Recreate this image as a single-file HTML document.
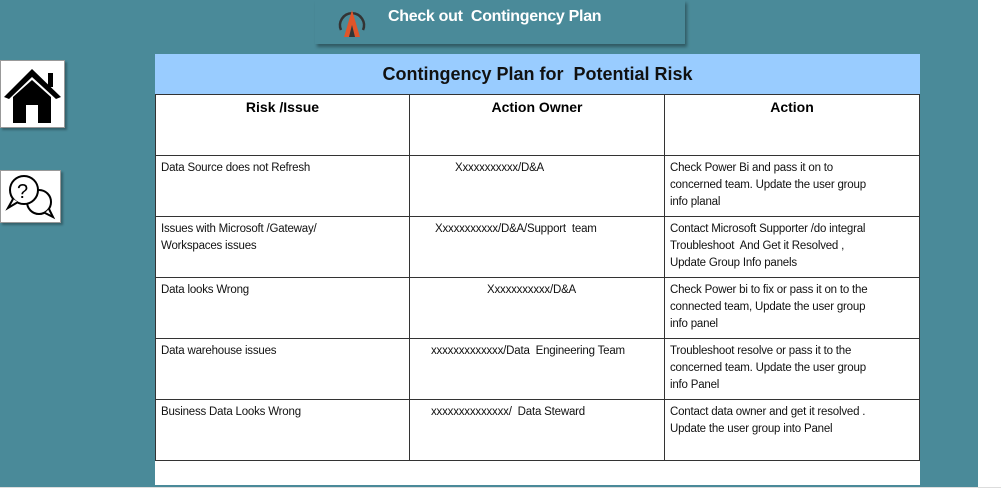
<!DOCTYPE html>
<html><head><meta charset="utf-8"><style>
body{margin:0;width:1001px;height:494px;background:#4a8a99;position:relative;overflow:hidden;font-family:"Liberation Sans",sans-serif}
.abs{position:absolute}
#rightstrip{left:978px;top:0;width:23px;height:494px;background:#fff}
#bottomstrip{left:0;top:487px;width:1001px;height:7px;background:#fff;border-top:1px solid #ddd}
#banner{left:315px;top:0;width:370px;height:44px;background:#4a8a99;box-shadow:2px 3px 3px rgba(0,0,0,.35)}
#banner span{position:absolute;left:73px;top:8px;color:#fff;font-weight:bold;font-size:16px;letter-spacing:-0.3px}
.icon{background:#fff;border:1px solid #999;box-shadow:2px 2px 2px rgba(0,0,0,.3)}
table{position:absolute;left:155px;top:54px;width:764px;border-collapse:collapse;background:#fff;table-layout:fixed}
td{border:1px solid #333;font-size:12px;vertical-align:top;padding:4px 5px;line-height:17px;color:#111;height:61px;box-sizing:border-box;white-space:nowrap;overflow:hidden}
th{border:1px solid #333;font-size:14px;vertical-align:top;padding:4px;height:61px;box-sizing:border-box}
.title{background:#99ccff;height:40px;font-size:18px;text-align:center;vertical-align:middle;border-color:#99ccff;border-bottom:1px solid #333}
.t{font-size:11.5px;letter-spacing:-0.2px}
</style></head><body>
<div class="abs" id="rightstrip"></div>
<div class="abs" id="bottomstrip"></div>
<div class="abs" id="banner">
<svg class="abs" style="left:20px;top:4px" width="34" height="34" viewBox="0 0 34 34"><path d="M6 26 A12 12 0 1 1 28 26" fill="none" stroke="#333" stroke-width="2.5"/><polygon points="9,33 17,6 25,33 20,33 17,21 14,33" fill="#e0552a"/><polygon points="14,33 17,21 20,33" fill="#333"/></svg>
<span>Check out&nbsp; Contingency Plan</span></div>
<div class="abs icon" style="left:0;top:60px;width:63px;height:66px">
<svg width="63" height="66" viewBox="0 0 63 66"><polygon points="31,8 3,36 8,38 31,16 55,38 60,36" fill="#000"/><rect x="47" y="12" width="5" height="14" fill="#000"/><polygon points="12,36 31,19 50,36 50,62 37,62 37,44 25,44 25,62 12,62" fill="#000"/></svg></div>
<div class="abs icon" style="left:0;top:170px;width:59px;height:51px">
<svg width="59" height="51" viewBox="0 0 59 51"><circle cx="38" cy="31" r="12" fill="#fff" stroke="#000" stroke-width="2"/><path d="M44 42 L52 46 L48 38" fill="#fff" stroke="#000" stroke-width="2"/><circle cx="23" cy="19" r="14" fill="#fff" stroke="#000" stroke-width="2"/><path d="M12 28 L7 37 L17 31" fill="#fff" stroke="#000" stroke-width="2"/><text x="16" y="27" font-size="20" font-family="Liberation Sans">?</text></svg></div>
<table>
<colgroup><col style="width:254px"><col style="width:255px"><col style="width:255px"></colgroup>
<tr><td colspan="3" class="title"><b>Contingency Plan for&nbsp; Potential Risk</b></td></tr>
<tr><th>Risk /Issue</th><th>Action Owner</th><th>Action</th></tr>
<tr><td class="t">Data Source does not Refresh</td><td class="t" style="padding-left:45px">Xxxxxxxxxxx/D&amp;A</td><td class="t">Check Power Bi and pass it on to<br>concerned team. Update the user group<br>info planal</td></tr>
<tr><td class="t">Issues with Microsoft /Gateway/<br>Workspaces issues</td><td class="t" style="padding-left:25px">Xxxxxxxxxxx/D&amp;A/Support&nbsp; team</td><td class="t">Contact Microsoft Supporter /do integral<br>Troubleshoot&nbsp; And Get it Resolved ,<br>Update Group Info panels</td></tr>
<tr><td class="t">Data looks Wrong</td><td class="t" style="padding-left:77px">Xxxxxxxxxxx/D&amp;A</td><td class="t">Check Power bi to fix or pass it on to the<br>connected team, Update the user group<br>info panel</td></tr>
<tr><td class="t">Data warehouse issues</td><td class="t" style="padding-left:21px">xxxxxxxxxxxxx/Data&nbsp; Engineering Team</td><td class="t">Troubleshoot resolve or pass it to the<br>concerned team. Update the user group<br>info Panel</td></tr>
<tr><td class="t">Business Data Looks Wrong</td><td class="t" style="padding-left:21px">xxxxxxxxxxxxxx/&nbsp; Data Steward</td><td class="t">Contact data owner and get it resolved .<br>Update the user group into Panel</td></tr>
<tr><td colspan="3" style="height:24px;border-bottom:none;border-left:none;border-right:none"></td></tr>
</table>
</body></html>
